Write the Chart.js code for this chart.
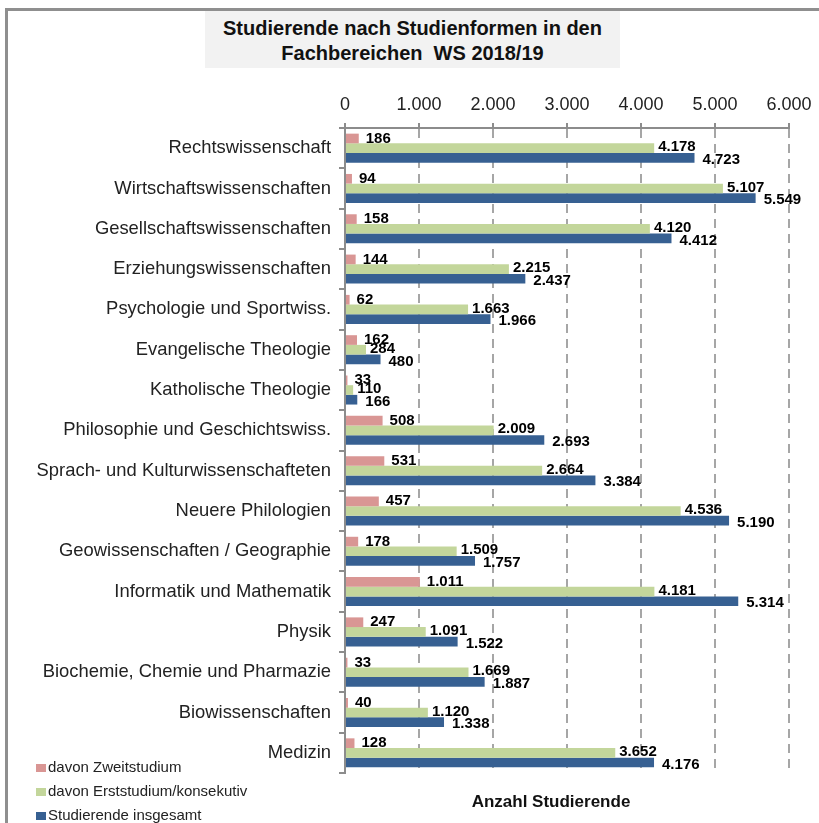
<!DOCTYPE html>
<html lang="de">
<head>
<meta charset="utf-8">
<title>Studierende nach Studienformen</title>
<script src="https://cdn.jsdelivr.net/npm/chart.js@4.4.0/dist/chart.umd.min.js"></script>
<style>
    body { margin: 0; background: #fff; font-family: "Liberation Sans", Arial, sans-serif; }
    #wrap { position: relative; width: 819px; height: 823px; overflow: hidden; }
    #frame { position: absolute; left: 5px; top: 8px; width: 900px; height: 900px;
             border-left: 3px solid #8f8f8f; border-top: 3px solid #8f8f8f; }
    #title { position: absolute; left: 205px; top: 11px; width: 415px; height: 57px;
             background: #f2f2f2; text-align: center; font-weight: bold; font-size: 20px;
             line-height: 25px; padding-top: 5px; box-sizing: border-box; color: #111; }
    #xTitle { position: absolute; left: 451px; width: 200px; top: 792px; text-align: center;
              font-weight: bold; font-size: 17px; color: #111; }
    #legend { position: absolute; left: 36px; top: 757px; font-size: 15px; color: #222; }
    .leg-item { height: 24px; line-height: 20px; white-space: nowrap; }
    .leg-box { display: inline-block; width: 10px; height: 8px; margin-right: 2px; }
    canvas { position: absolute; left: 0; top: 0; }
</style>
</head>
<body>
<div id="wrap">
    <div id="frame"></div>
    <canvas id="chart" width="819" height="823"></canvas>
    <div id="title">Studierende nach Studienformen in den<br>Fachbereichen&nbsp;&nbsp;WS 2018/19</div>
    <div id="legend"></div>
    <div id="xTitle">Anzahl Studierende</div>
</div>
<script>
// Data
const categories = [
    'Rechtswissenschaft',
    'Wirtschaftswissenschaften',
    'Gesellschaftswissenschaften',
    'Erziehungswissenschaften',
    'Psychologie und Sportwiss.',
    'Evangelische Theologie',
    'Katholische Theologie',
    'Philosophie und Geschichtswiss.',
    'Sprach- und Kulturwissenschafteten',
    'Neuere Philologien',
    'Geowissenschaften / Geographie',
    'Informatik und Mathematik',
    'Physik',
    'Biochemie, Chemie und Pharmazie',
    'Biowissenschaften',
    'Medizin'
];
const zweitstudium = [186, 94, 158, 144, 62, 162, 33, 508, 531, 457, 178, 1011, 247, 33, 40, 128];
const erststudium = [4178, 5107, 4120, 2215, 1663, 284, 110, 2009, 2664, 4536, 1509, 4181, 1091, 1669, 1120, 3652];
const insgesamt = [4723, 5549, 4412, 2437, 1966, 480, 166, 2693, 3384, 5190, 1757, 5314, 1522, 1887, 1338, 4176];
const seriesNames = ['davon Zweitstudium', 'davon Erststudium/konsekutiv', 'Studierende insgesamt'];
const seriesColors = ['#d99694', '#c3d69b', '#376092'];
const xTicks = [0, 1000, 2000, 3000, 4000, 5000, 6000];

const FONT = '"Liberation Sans", Arial, sans-serif';

// German thousands separator
function fmt(v) {
    return String(v).replace(/\B(?=(\d{3})+(?!\d))/g, '.');
}

// Value labels right of each bar
const valueLabels = {
    id: 'valueLabels',
    afterDatasetsDraw(chart) {
        const ctx = chart.ctx;
        ctx.save();
        ctx.font = 'bold 15px ' + FONT;
        ctx.fillStyle = '#000';
        ctx.textBaseline = 'middle';
        ctx.textAlign = 'left';
        const offsets = [[7, 0], [4, -1], [8, 2]];
        chart.data.datasets.forEach((ds, i) => {
            const meta = chart.getDatasetMeta(i);
            meta.data.forEach((bar, j) => {
                ctx.fillText(fmt(ds.data[j]), bar.x + offsets[i][0], bar.y + offsets[i][1]);
            });
        });
        ctx.restore();
    }
};

// Legend
const legend = document.getElementById('legend');
seriesNames.forEach((name, i) => {
    const item = document.createElement('div');
    item.className = 'leg-item';
    item.innerHTML = '<span class="leg-box" style="background:' + seriesColors[i] + '"></span>' + name;
    legend.appendChild(item);
});

const data = [zweitstudium, erststudium, insgesamt];

new Chart(document.getElementById('chart'), {
    type: 'bar',
    data: {
        labels: categories,
        datasets: seriesNames.map((name, i) => ({
            label: name,
            data: data[i],
            backgroundColor: seriesColors[i],
            borderWidth: 0,
            categoryPercentage: 0.72,
            barPercentage: 1.0
        }))
    },
    options: {
        indexAxis: 'y',
        responsive: false,
        animation: false,
        layout: { padding: { top: 0, left: 0, right: 30, bottom: 50 } },
        plugins: {
            legend: { display: false },
            tooltip: { enabled: false }
        },
        scales: {
            x: {
                position: 'top',
                min: 0,
                max: 6000,
                afterBuildTicks: scale => {
                    scale.ticks = xTicks.map(v => ({ value: v }));
                },
                afterFit: scale => { scale.height = 128; },
                ticks: {
                    callback: v => fmt(v),
                    font: { size: 18, family: FONT },
                    color: '#222',
                    padding: 7,
                    maxRotation: 0
                },
                grid: {
                    color: '#a6a6a6',
                    lineWidth: 2,
                    tickLength: 5,
                    tickColor: '#8c8c8c'
                },
                border: { color: '#8c8c8c', width: 2, dash: [9, 6] }
            },
            y: {
                afterFit: scale => { scale.width = 345; },
                ticks: {
                    font: { size: 18.4, family: FONT },
                    color: '#222',
                    padding: 8
                },
                grid: {
                    offset: true,
                    drawOnChartArea: false,
                    tickLength: 6,
                    color: '#8c8c8c',
                    lineWidth: 2
                },
                border: { color: '#8c8c8c', width: 2 }
            }
        }
    },
    plugins: [valueLabels]
});
</script>
</body>
</html>
